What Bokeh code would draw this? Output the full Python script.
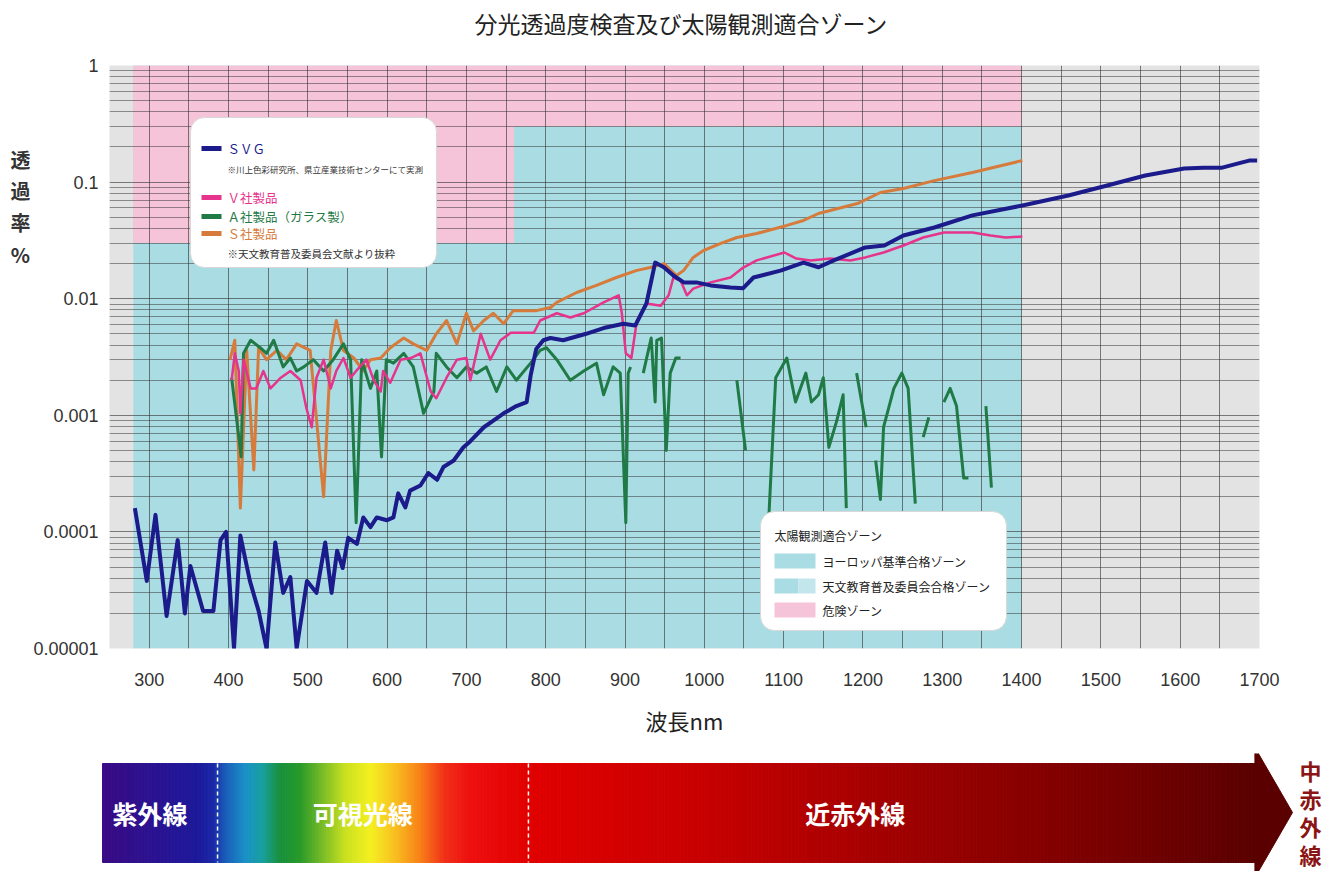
import numpy as np
from bokeh.plotting import figure
from bokeh.models import (Range1d, FixedTicker, SingleIntervalTicker, CustomJSTickFormatter,
                          Label, BoxAnnotation)
from bokeh.layouts import column, row
from bokeh.embed import file_html
from bokeh.resources import INLINE
from bokeh.core.properties import value

JP = "Noto Sans CJK JP"
NUM = "Liberation Sans"
nan = float("nan")

# ---------------- data ----------------
title_text = "分光透過度検査及び太陽観測適合ゾーン"

svg_nm = [282, 297, 308, 322, 336, 345, 352, 368, 381, 390, 397, 407, 415, 427, 438, 448, 459, 469, 478, 486,
          499, 511, 522, 530, 537, 544, 551, 562, 570, 579, 587, 600, 608, 614, 623, 629, 642, 652, 663, 671,
          684, 696, 705, 722, 734, 747, 763, 776, 781, 788, 797, 806, 822, 851, 873, 898, 913, 927, 938, 949,
          961, 974, 990, 1008, 1033, 1049, 1062, 1096, 1125, 1144, 1164, 1203, 1227, 1251, 1290, 1338, 1401,
          1459, 1508, 1556, 1605, 1629, 1653, 1677, 1687, 1697]
svg_val = [1.6e-4, 3.8e-5, 1.4e-4, 1.9e-5, 8.5e-5, 2.0e-5, 5.1e-5, 2.1e-5, 2.1e-5, 8.5e-5, 1.0e-4, 1.0e-5,
           9.3e-5, 3.8e-5, 2.1e-5, 1.0e-5, 8.1e-5, 3.0e-5, 4.1e-5, 1.0e-5, 3.8e-5, 3.0e-5, 8.1e-5, 3.0e-5,
           6.9e-5, 4.9e-5, 8.9e-5, 7.9e-5, 1.33e-4, 1.1e-4, 1.33e-4, 1.26e-4, 1.33e-4, 2.14e-4, 1.62e-4,
           2.26e-4, 2.5e-4, 3.2e-4, 2.8e-4, 3.6e-4, 4.1e-4, 5.3e-4, 6.0e-4, 7.9e-4, 9.0e-4, 1.04e-3, 1.2e-3,
           1.3e-3, 2.2e-3, 3.7e-3, 4.4e-3, 4.6e-3, 4.4e-3, 5.0e-3, 5.6e-3, 6.1e-3, 5.9e-3, 9.1e-3, 0.0204,
           0.0186, 0.0158, 0.0138, 0.0138, 0.013, 0.0125, 0.0123, 0.0152, 0.0174, 0.0204, 0.0186, 0.0214,
           0.0275, 0.0286, 0.0348, 0.0408, 0.0518, 0.063, 0.0767, 0.0935, 0.114, 0.131, 0.133, 0.133, 0.147,
           0.153, 0.153]

v_nm = [404, 408, 413, 415, 419, 428, 435, 444, 453, 466, 478, 491, 498, 505, 511, 520, 529, 536, 545, 554,
        561, 574, 583, 592, 595, 604, 617, 630, 642, 655, 662, 675, 688, 700, 705, 718, 730, 743, 756, 772,
        785, 793, 814, 831, 848, 873, 892, 896, 901, 908, 915, 927, 945, 955, 961, 970, 978, 986, 1008, 1033,
        1049, 1066, 1101, 1116, 1134, 1159, 1184, 1203, 1226, 1251, 1276, 1302, 1338, 1361, 1380, 1401]
v_val = [0.0020, 0.0034, 0.0024, 0.00104, 0.0030, 0.0017, 0.0017, 0.0024, 0.0017, 0.0021, 0.0024, 0.0020,
         0.00117, 0.00079, 0.0021, 0.0030, 0.0017, 0.0024, 0.0031, 0.0021, 0.0024, 0.0030, 0.0020, 0.0016,
         0.0024, 0.0019, 0.0030, 0.0031, 0.0034, 0.0016, 0.0014, 0.0021, 0.0030, 0.0031, 0.0020, 0.0050,
         0.0030, 0.0044, 0.0051, 0.0051, 0.0051, 0.0065, 0.0075, 0.0069, 0.0075, 0.0093, 0.0107, 0.0075,
         0.0034, 0.0031, 0.0065, 0.0091, 0.0087, 0.0107, 0.0152, 0.0143, 0.0107, 0.0122, 0.0138, 0.0152,
         0.0185, 0.0213, 0.0249, 0.0221, 0.0213, 0.0221, 0.0213, 0.0226, 0.0249, 0.0286, 0.0335, 0.037,
         0.037, 0.0348, 0.0335, 0.0341]

a_nm = [404, 416, 419, 428, 440, 448, 457, 469, 478, 486, 495, 507, 520, 532, 545, 554, 561, 568, 579, 587,
        593, 599, 608, 621, 633, 646, 659, 662, 675, 688, 700, 713, 725, 738, 751, 763, 781, 793, 801, 814,
        831, 848, 864, 873, 885, 894, 901, 904, 907, nan, 923, 933, 938, 940, 946, 952, 957, 964, 970, nan,
        1041, 1052, nan, 1081, 1090, 1104, 1115, 1128, 1135, 1144, 1150, 1157, 1167, 1175, 1179, nan, 1192,
        1204, nan, 1216, 1222, 1226, 1239, 1249, 1257, 1266, nan, 1276, 1283, nan, 1302, 1310, 1318, 1327,
        1333, nan, 1355, 1362]
a_val = [0.0021, 0.00044, 0.0034, 0.0044, 0.0038, 0.0034, 0.0044, 0.0026, 0.0031, 0.0024, 0.0026, 0.0030,
         0.0024, 0.0030, 0.0041, 0.0030, 0.00012, 0.0030, 0.0017, 0.0024, 0.00044, 0.0030, 0.0028, 0.0034,
         0.0026, 0.00104, 0.0016, 0.0034, 0.0026, 0.0021, 0.0026, 0.0023, 0.0026, 0.0016, 0.0026, 0.0020,
         0.0028, 0.0036, 0.0038, 0.0030, 0.0020, 0.0024, 0.0028, 0.0015, 0.0026, 0.0023, 0.00012, 0.0023,
         0.0026, nan, 0.0023, 0.0046, 0.0013, 0.0044, 0.0046, 0.0005, 0.0023, 0.0031, 0.0031, nan, 0.0020,
         0.0005, nan, 0.00012, 0.0021, 0.0031, 0.0013, 0.0023, 0.0013, 0.0015, 0.0021, 0.00053, 0.0009,
         0.0015, 0.00016, nan, 0.0023, 0.00079, nan, 0.00041, 0.00019, 0.00079, 0.0017, 0.0023, 0.0017,
         0.000175, nan, 0.00065, 0.00096, nan, 0.0013, 0.0017, 0.0012, 0.00029, 0.00029, nan, 0.0012, 0.00024]

s_nm = [402, 408, 415, 423, 432, 438, 448, 461, 473, 486, 503, 520, 529, 536, 545, 558, 570, 579, 592, 604,
        621, 633, 650, 662, 675, 688, 700, 709, 722, 734, 747, 759, 772, 788, 806, 814, 839, 864, 889, 915,
        932, 949, 965, 974, 986, 999, 1020, 1041, 1066, 1104, 1125, 1144, 1193, 1222, 1251, 1290, 1338, 1401]
s_val = [0.0030, 0.0044, 0.00016, 0.0036, 0.00034, 0.0038, 0.0030, 0.0036, 0.0030, 0.0041, 0.0036, 0.0002,
         0.0036, 0.0065, 0.0036, 0.0031, 0.0024, 0.0030, 0.0031, 0.0038, 0.0046, 0.0041, 0.0036, 0.0050,
         0.0065, 0.0041, 0.0075, 0.0053, 0.0065, 0.0075, 0.0061, 0.0079, 0.0079, 0.0079, 0.0084, 0.0093,
         0.0113, 0.013, 0.0152, 0.0175, 0.0185, 0.020, 0.0158, 0.0175, 0.0226, 0.0259, 0.0297, 0.0335,
         0.0362, 0.0425, 0.0469, 0.0538, 0.0655, 0.0814, 0.0881, 0.103, 0.121, 0.153]

series_names = ["ＳＶＧ", "Ｖ社製品", "Ａ社製品（ガラス製）", "Ｓ社製品"]
series_colors = ["#1b1b8c", "#e6338b", "#1f7a46", "#d67b3b"]

zone_left = [280, 280, 760]
zone_right = [1400, 760, 1400]
zone_bottom = [1e-5, 0.03, 0.3]
zone_top = [1, 1, 1]
zone_colors = ["#aadce3", "#f6c4d8", "#f6c4d8"]
zone_names = ["ヨーロッパ基準合格ゾーン", "天文教育普及委員会合格ゾーン", "危険ゾーン"]

x_ticks = list(range(300, 1701, 100))
y_ticks = [1e-5, 1e-4, 1e-3, 1e-2, 1e-1, 1]
y_minor = [m * 10.0 ** e for e in range(-5, 0) for m in range(2, 10)]
y_title = ["透", "過", "率", "%"]

spec_nm = [245, 305, 368, 386, 400, 425, 447, 469, 495, 520, 551, 583, 614, 646, 677, 709, 785, 999, 1251,
           1503, 1699]
spec_colors = ["#3a0a84", "#2c1290", "#1c1a9c", "#1a2aa8", "#1a5cb8", "#1a90c8", "#18a0a0", "#18903c",
               "#2a9a2a", "#70b828", "#c8e020", "#f4f020", "#f8c020", "#f88018", "#f03018", "#ee1010",
               "#e00000", "#c80000", "#a00000", "#7a0000", "#5a0000"]
band_names = ["紫外線", "可視光線", "近赤外線"]
band_centers = [305, 573, 1194]
band_bounds = [390, 782]

# ---------------- layout helpers (page pixel -> data) ----------------
FL, FT, FW, FH = 106, 65, 1150, 583
X0, X1 = 250, 1700
LW = 30   # width of the narrow figure holding the y title
TH = 42   # height of the title strip
PW = 1322


def dx(px):
    return X0 + (px - FL) * (X1 - X0) / FW


def dy(py):
    return 10 ** (-(py - FT) * 5.0 / FH)


def no_align(fig):
    try:
        fig.frame_align = False
    except Exception:
        pass


def blank(w, h, xr, yr):
    f = figure(width=w, height=h, min_border=0, x_range=xr, y_range=yr, output_backend="svg",
               toolbar_location=None, border_fill_color="white", background_fill_color="white")
    f.axis.visible = False
    f.grid.visible = False
    f.outline_line_color = None
    no_align(f)
    return f


# ---------------- title strip ----------------
pt = blank(PW, TH, Range1d(0, PW), Range1d(TH, 0))
pt.text(x=[FL + FW / 2], y=[22], text=[title_text], text_font=value(JP), text_font_size="23px",
        text_color="#222222", text_align="center", text_baseline="middle")

# ---------------- y title strip ----------------
MH = 753 - TH
pl = blank(LW, MH, Range1d(0, LW), Range1d(753, TH))
pl.text(x=[20] * 4, y=[159, 190, 222, 254], text=y_title, text_font=value(JP), text_font_size="20px",
        text_font_style="bold", text_color="#333333", text_align="center", text_baseline="middle")

# ---------------- main chart ----------------
p = figure(frame_width=FW, frame_height=FH, min_border_left=FL - LW, min_border_right=PW - FL - FW,
           min_border_top=FT - TH, min_border_bottom=105,
           x_range=Range1d(X0, X1), y_range=Range1d(1e-5, 1), y_axis_type="log",
           output_backend="svg", toolbar_location=None,
           background_fill_color="#e3e3e3", border_fill_color="white")
no_align(p)
p.outline_line_color = None

p.quad(left=zone_left, right=zone_right, bottom=zone_bottom, top=zone_top,
       fill_color=zone_colors, line_color=None, level="image")

p.xgrid.ticker = SingleIntervalTicker(interval=50, num_minor_ticks=0)
p.xgrid.grid_line_color = "#2e2e2e"
p.xgrid.grid_line_alpha = 0.6
yt = FixedTicker(ticks=y_ticks, minor_ticks=y_minor)
p.ygrid.ticker = yt
p.ygrid.grid_line_color = "#2e2e2e"
p.ygrid.grid_line_alpha = 0.6
p.ygrid.minor_grid_line_color = "#2e2e2e"
p.ygrid.minor_grid_line_alpha = 0.5

p.xaxis.ticker = FixedTicker(ticks=x_ticks)
p.yaxis.ticker = FixedTicker(ticks=y_ticks)
p.yaxis.formatter = CustomJSTickFormatter(code="""
const d = Math.max(0, -Math.round(Math.log10(tick)));
return tick.toFixed(d);
""")
for ax in p.axis:
    ax.axis_line_color = None
    ax.major_tick_line_color = None
    ax.minor_tick_line_color = None
    ax.major_tick_out = 0
    ax.major_tick_in = 0
    ax.minor_tick_out = 0
    ax.minor_tick_in = 0
    ax.major_label_text_font = NUM
    ax.major_label_text_font_size = "18px"
    ax.major_label_text_color = "#333333"
p.xaxis.major_label_standoff = 24
p.yaxis.major_label_standoff = 11
p.xaxis.axis_label = "波長nm"
p.xaxis.axis_label_text_font = JP
p.xaxis.axis_label_text_font_size = "22px"
p.xaxis.axis_label_text_font_style = "normal"
p.xaxis.axis_label_text_color = "#222222"
p.xaxis.axis_label_standoff = 15

p.line(s_nm, s_val, line_width=3, color=series_colors[3], line_join="round")
p.line(np.array(a_nm), np.array(a_val), line_width=3, color=series_colors[2], line_join="round")
p.line(v_nm, v_val, line_width=2.5, color=series_colors[1], line_join="round")
p.line(svg_nm, svg_val, line_width=4, color=series_colors[0], line_join="round")


def box(l, r, t, b, color, radius=0, line_color=None):
    return BoxAnnotation(left=dx(l), right=dx(r), top=dy(t), bottom=dy(b), fill_color=color,
                         fill_alpha=1.0, line_color=line_color, line_alpha=1.0 if line_color else 0,
                         border_radius=radius)


def lab(px, py, text, size, color):
    return Label(x=dx(px), y=dy(py), text=text, text_font=JP, text_font_size=size,
                 text_color=color, text_align="left", text_baseline="middle")


# legend 1
p.add_layout(box(187, 433, 117, 267, "white", 14, "#d8d8d8"))
for name, col, y in zip(series_names, series_colors, [148, 197, 216, 233]):
    p.add_layout(box(198, 218, y - 2.5, y + 2.5, col))
    p.add_layout(lab(224, y, name, "12.5px", col))
p.add_layout(lab(224, 168, "※川上色彩研究所、県立産業技術センターにて実測", "8.5px", "#333333"))
p.add_layout(lab(224, 253, "※天文教育普及委員会文献より抜粋", "10.5px", "#333333"))

# legend 2
p.add_layout(box(757, 1003, 511, 630, "white", 14, "#d8d8d8"))
p.add_layout(lab(771, 535, "太陽観測適合ゾーン", "12px", "#222222"))
p.add_layout(box(771, 812, 553, 568, zone_colors[0]))
p.add_layout(box(771, 795, 578, 593, zone_colors[0]))
p.add_layout(box(795, 812, 578, 593, "#c2e6eb"))
p.add_layout(box(771, 812, 602, 617, zone_colors[1]))
for name, y in zip(zone_names, [561, 586, 610]):
    p.add_layout(lab(819, y, name, "12px", "#222222"))

# ---------------- spectrum bar ----------------
p2 = blank(PW, 118, Range1d(dx(0), dx(PW)), Range1d(871, 753))


def hex2rgb(h):
    return [int(h[i:i + 2], 16) for i in (1, 3, 5)]


rgb = np.array([hex2rgb(c) for c in spec_colors], dtype=float)
edges = np.linspace(spec_nm[0], spec_nm[-1], 500)
mids = (edges[:-1] + edges[1:]) / 2
cols = []
for m in mids:
    r, g, b = (int(round(np.interp(m, spec_nm, rgb[:, k]))) for k in range(3))
    cols.append("#%02x%02x%02x" % (r, g, b))
p2.quad(left=edges[:-1], right=edges[1:], bottom=862, top=763, fill_color=cols, line_color=cols,
        line_width=1)
p2.patch([spec_nm[-1] - 1, spec_nm[-1] - 1, dx(1292)], [747, 877, 812], fill_color=spec_colors[-1],
         line_color=spec_colors[-1])
p2.segment(x0=band_bounds, y0=763, x1=band_bounds, y1=862, line_color="white", line_dash="4 3",
           line_width=1.5)
p2.text(x=band_centers, y=[812] * 3, text=band_names, text_font=value(JP), text_font_size="25px",
        text_font_style="bold", text_color="white", text_align="center", text_baseline="middle")
p2.text(x=[dx(1310)] * 4, y=[769, 797, 825, 853], text=list("中赤外線"), text_font=value(JP),
        text_font_size="22px", text_font_style="bold", text_color="#8b1414", text_align="center",
        text_baseline="middle")

layout = column(pt, row(pl, p, spacing=0), p2, spacing=0)
open("out.html", "w").write(file_html(layout, INLINE))
